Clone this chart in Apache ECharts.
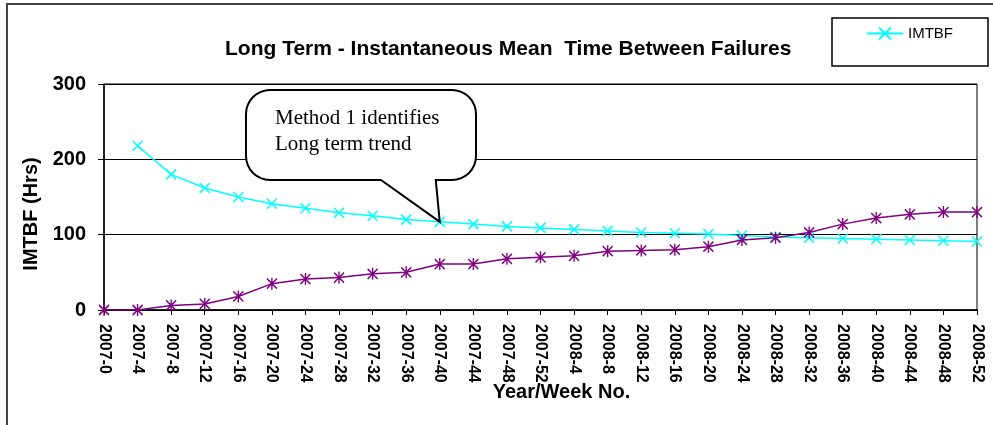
<!DOCTYPE html>
<html>
<head>
<meta charset="utf-8">
<title>Long Term - IMTBF</title>
<script src="https://cdn.jsdelivr.net/npm/echarts@6/dist/echarts.min.js"></script>
<style>
  html, body { margin: 0; padding: 0; background: #fff; }
  #chart { width: 993px; height: 425px; }
</style>
</head>
<body>
<div id="chart"></div>
<script>
// year/week categories, every 4 weeks
const weeks = [
  '2007-0', '2007-4', '2007-8', '2007-12', '2007-16', '2007-20', '2007-24',
  '2007-28', '2007-32', '2007-36', '2007-40', '2007-44', '2007-48', '2007-52',
  '2008-4', '2008-8', '2008-12', '2008-16', '2008-20', '2008-24', '2008-28',
  '2008-32', '2008-36', '2008-40', '2008-44', '2008-48', '2008-52'
];
// instantaneous MTBF (hrs), no value at week 0
const imtbf = [
  null, 218, 180, 162, 150, 141, 135, 129, 125, 120, 117, 114, 111, 109,
  107, 105, 103, 102, 101, 99, 97, 96, 95, 94, 93, 92, 91
];
// second (unlabelled) series
const cumulative = [
  0, 0, 6, 8, 18, 35, 41, 43, 48, 50, 61, 61, 68, 70,
  72, 78, 79, 80, 84, 93, 96, 103, 114, 122, 127, 130, 130
];
const yTicks = [0, 100, 200, 300];

const font = '"Liberation Sans", Arial, sans-serif';
const crossSymbol = 'path://M0,0L10,10M10,0L0,10';
const starSymbol = 'path://M0,1L10,11M10,1L0,11M5,0L5,12';

const chart = echarts.init(document.getElementById('chart'));

const option = {
  backgroundColor: '#fff',
  animation: false,
  title: {
    text: 'Long Term - Instantaneous Mean  Time Between Failures',
    left: 225,
    top: 39,
    padding: 0,
    textStyle: { fontFamily: font, fontSize: 21, fontWeight: 'bold', color: '#000' }
  },
  legend: {
    data: ['IMTBF'],
    left: 866,
    top: 26,
    padding: 0,
    itemWidth: 36,
    itemHeight: 15,
    textStyle: { fontFamily: font, fontSize: 15, color: '#000' }
  },
  grid: {
    left: 104,
    right: 16,
    top: 84,
    bottom: 115,
    show: true,
    borderColor: '#000',
    borderWidth: 1
  },
  xAxis: {
    type: 'category',
    data: weeks,
    boundaryGap: false,
    name: 'Year/Week No.',
    nameLocation: 'middle',
    nameGap: 72,
    nameMoveOverlap: false,
    nameTextStyle: {
      fontFamily: font, fontSize: 20, fontWeight: 'bold', color: '#000',
      padding: [0, 0, 0, 42]
    },
    axisLine: { lineStyle: { color: '#000', width: 1.5 } },
    axisTick: { show: true, inside: false, length: 5, lineStyle: { color: '#000' } },
    axisLabel: {
      rotate: -90,
      margin: 14,
      interval: 0,
      fontFamily: font,
      fontSize: 16,
      fontWeight: 'bold',
      color: '#000'
    },
    splitLine: { show: false }
  },
  yAxis: {
    type: 'value',
    min: yTicks[0],
    max: yTicks[yTicks.length - 1],
    interval: 100,
    name: 'IMTBF (Hrs)',
    nameLocation: 'middle',
    nameGap: 58,
    nameTextStyle: {
      fontFamily: font, fontSize: 20, fontWeight: 'bold', color: '#000',
      padding: [0, 34, 0, 0]
    },
    axisLine: { show: true, lineStyle: { color: '#000', width: 1.5 } },
    axisTick: { show: true, inside: false, length: 6, lineStyle: { color: '#000' } },
    axisLabel: {
      margin: 18,
      fontFamily: font,
      fontSize: 20,
      fontWeight: 'bold',
      color: '#000'
    },
    splitLine: { show: true, lineStyle: { color: '#000', width: 1.2 } }
  },
  series: [
    {
      name: 'IMTBF',
      type: 'line',
      data: imtbf,
      symbol: crossSymbol,
      symbolSize: 10,
      showAllSymbol: true,
      lineStyle: { color: '#00ffff', width: 1.5 },
      itemStyle: { color: '#00ffff', borderColor: '#00ffff', borderWidth: 1.5 },
      z: 3
    },
    {
      name: 'Cumulative',
      type: 'line',
      data: cumulative,
      symbol: starSymbol,
      symbolSize: [10, 12],
      showAllSymbol: true,
      lineStyle: { color: '#800080', width: 1.5 },
      itemStyle: { color: '#800080', borderColor: '#800080', borderWidth: 1.5 },
      z: 4
    }
  ]
};

chart.setOption(option);

// callout bubble pointing at the 2007-40 point of the IMTBF curve
const tip = chart.convertToPixel({ seriesIndex: 0 }, [10, imtbf[10]]);
const bx0 = 246, by0 = 90, bx1 = 476, by1 = 180, r = 24;

function arc(cx, cy, a0, a1) {
  const pts = [];
  for (let i = 0; i <= 8; i++) {
    const a = a0 + (a1 - a0) * i / 8;
    pts.push([cx + r * Math.cos(a), cy + r * Math.sin(a)]);
  }
  return pts;
}
const PI = Math.PI;
const bubble = [].concat(
  arc(bx1 - r, by0 + r, -PI / 2, 0),
  arc(bx1 - r, by1 - r, 0, PI / 2),
  [[tip[0] - 4, by1], [tip[0], tip[1]], [381, by1]],
  arc(bx0 + r, by1 - r, PI / 2, PI),
  arc(bx0 + r, by0 + r, PI, PI * 1.5)
);

chart.setOption({
  graphic: [
    {
      type: 'rect',
      shape: { x: 7, y: 4, width: 1010, height: 440 },
      style: { fill: 'none', stroke: '#444', lineWidth: 2 },
      silent: true
    },
    {
      type: 'rect',
      shape: { x: 832, y: 18, width: 156, height: 48 },
      style: { fill: 'none', stroke: '#000', lineWidth: 1.5 },
      silent: true
    },
    {
      type: 'polygon',
      shape: { points: bubble },
      style: { fill: '#fff', stroke: '#000', lineWidth: 2 },
      z: 100,
      silent: true
    },
    {
      type: 'text',
      x: 275,
      y: 105,
      z: 101,
      style: {
        text: 'Method 1 identifies\nLong term trend',
        font: '21px "Liberation Serif", "Times New Roman", serif',
        fill: '#000',
        lineHeight: 26,
        verticalAlign: 'top'
      },
      silent: true
    }
  ]
});
</script>
</body>
</html>
